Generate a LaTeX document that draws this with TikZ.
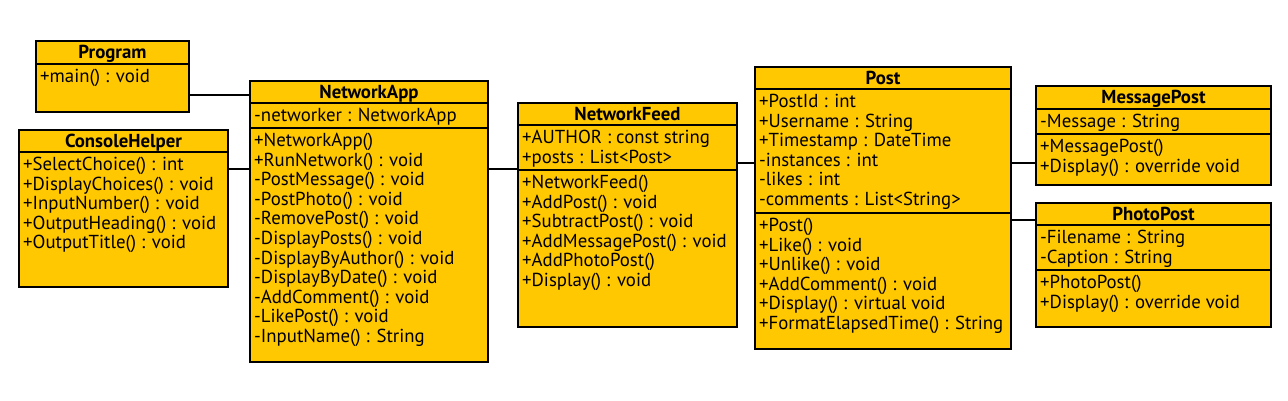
\documentclass[tikz,border=0pt]{standalone}
\usepackage{fontspec}
\setmainfont{PT Sans}
\usetikzlibrary{positioning}
\definecolor{classgold}{RGB}{255,200,0}

\begin{document}
\begin{tikzpicture}[
    x=1pt, y=-1pt,
    classbox/.style={rectangle, draw=black, fill=classgold, line width=1.3pt, anchor=north west, inner sep=0pt, outer sep=0pt},
    classname/.style={anchor=base, inner sep=0pt, font=\fontsize{18.8}{20}\selectfont\bfseries},
    members/.style={anchor=north west, align=left, inner xsep=4pt, inner ysep=0pt, execute at begin node=\strut, font=\fontsize{18.8}{19.6}\selectfont},
    divider/.style={line width=1.3pt},
    link/.style={line width=1.3pt}
]
\useasboundingbox (0,0) rectangle (1288,401);

% Program
\node[classbox, minimum width=153pt, minimum height=71pt] (program) at (36,41) {};
\node[classname] (programname) at (112.5,59) {Program};
\draw[divider] (program.west |- 0,64) -- (program.east |- 0,64);
\node[members] (programops) at (36,69) {+main() : void};

% ConsoleHelper
\node[classbox, minimum width=209pt, minimum height=157pt] (console) at (19,130) {};
\node[classname] (consolename) at (123.5,147.5) {ConsoleHelper};
\draw[divider] (console.west |- 0,152) -- (console.east |- 0,152);
\node[members] (consoleops) at (19,157) {+SelectChoice() : int\\+DisplayChoices() : void\\+InputNumber() : void\\+OutputHeading() : void\\+OutputTitle() : void};

% NetworkApp
\node[classbox, minimum width=238pt, minimum height=281pt] (napp) at (250,81) {};
\node[classname] (nappname) at (369,98.5) {NetworkApp};
\draw[divider] (napp.west |- 0,103) -- (napp.east |- 0,103);
\draw[divider] (napp.west |- 0,128) -- (napp.east |- 0,128);
\node[members] (nappattrs) at (250,108) {-networker : NetworkApp};
\node[members] (nappops) at (250,133) {+NetworkApp()\\+RunNetwork() : void\\-PostMessage() : void\\-PostPhoto() : void\\-RemovePost() : void\\-DisplayPosts() : void\\-DisplayByAuthor() : void\\-DisplayByDate() : void\\-AddComment() : void\\-LikePost() : void\\-InputName() : String};

% NetworkFeed
\node[classbox, minimum width=219pt, minimum height=224pt] (feed) at (518,103) {};
\node[classname] (feedname) at (627.5,120.5) {NetworkFeed};
\draw[divider] (feed.west |- 0,125) -- (feed.east |- 0,125);
\draw[divider] (feed.west |- 0,170) -- (feed.east |- 0,170);
\node[members] (feedattrs) at (518,130) {+AUTHOR : const string\\+posts : List<Post>};
\node[members] (feedops) at (518,175) {+NetworkFeed()\\+AddPost() : void\\+SubtractPost() : void\\+AddMessagePost() : void\\+AddPhotoPost()\\+Display() : void};

% Post
\node[classbox, minimum width=256pt, minimum height=282pt] (post) at (755,67) {};
\node[classname] (postname) at (883,84.5) {Post};
\draw[divider] (post.west |- 0,89) -- (post.east |- 0,89);
\draw[divider] (post.west |- 0,213) -- (post.east |- 0,213);
\node[members] (postattrs) at (755,94) {+PostId : int\\+Username : String\\+Timestamp : DateTime\\-instances : int\\-likes : int\\-comments : List<String>};
\node[members] (postops) at (755,218) {+Post()\\+Like() : void\\+Unlike() : void\\+AddComment() : void\\+Display() : virtual void\\+FormatElapsedTime() : String};

% MessagePost
\node[classbox, minimum width=235pt, minimum height=99pt] (msgpost) at (1036,86) {};
\node[classname] (msgpostname) at (1153.5,104) {MessagePost};
\draw[divider] (msgpost.west |- 0,109) -- (msgpost.east |- 0,109);
\draw[divider] (msgpost.west |- 0,134) -- (msgpost.east |- 0,134);
\node[members] (msgpostattrs) at (1036,114) {-Message : String};
\node[members] (msgpostops) at (1036,139) {+MessagePost()\\+Display() : override void};

% PhotoPost
\node[classbox, minimum width=235pt, minimum height=124pt] (photopost) at (1036,203) {};
\node[classname] (photopostname) at (1153.5,220.5) {PhotoPost};
\draw[divider] (photopost.west |- 0,225) -- (photopost.east |- 0,225);
\draw[divider] (photopost.west |- 0,270) -- (photopost.east |- 0,270);
\node[members] (photopostattrs) at (1036,230) {-Filename : String\\-Caption : String};
\node[members] (photopostops) at (1036,275) {+PhotoPost()\\+Display() : override void};

% Links
\draw[link] (program.east |- 0,95) -- (napp.west |- 0,95);
\draw[link] (console.east |- 0,169) -- (napp.west |- 0,169);
\draw[link] (napp.east |- 0,169) -- (feed.west |- 0,169);
\draw[link] (feed.east |- 0,163) -- (post.west |- 0,163);
\draw[link] (post.east |- 0,163) -- (msgpost.west |- 0,163);
\draw[link] (post.east |- 0,220) -- (photopost.west |- 0,220);

\end{tikzpicture}
\end{document}
